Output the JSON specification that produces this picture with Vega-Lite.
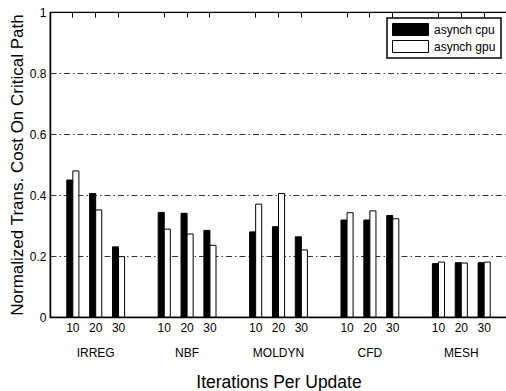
{
  "$schema": "https://vega.github.io/schema/vega-lite/v6.json",
  "width": 457,
  "height": 305,
  "autosize": {"type": "none"},
  "padding": {"left": 50, "top": 12, "right": 0, "bottom": 74},
  "background": "white",
  "config": {
    "font": "Liberation Sans",
    "view": {"stroke": "black", "strokeWidth": 1.2},
    "axis": {"labelColor": "black", "titleColor": "black", "labelFont": "Liberation Sans", "titleFont": "Liberation Sans", "domainColor": "black", "domainWidth": 1.5, "tickColor": "black"}
  },
  "data": {"values": [
    {"slot": "IRREG 10", "series": "asynch cpu", "value": 0.449},
    {"slot": "IRREG 10", "series": "asynch gpu", "value": 0.479},
    {"slot": "IRREG 20", "series": "asynch cpu", "value": 0.405},
    {"slot": "IRREG 20", "series": "asynch gpu", "value": 0.351},
    {"slot": "IRREG 30", "series": "asynch cpu", "value": 0.230},
    {"slot": "IRREG 30", "series": "asynch gpu", "value": 0.198},
    {"slot": "NBF 10", "series": "asynch cpu", "value": 0.343},
    {"slot": "NBF 10", "series": "asynch gpu", "value": 0.288},
    {"slot": "NBF 20", "series": "asynch cpu", "value": 0.340},
    {"slot": "NBF 20", "series": "asynch gpu", "value": 0.272},
    {"slot": "NBF 30", "series": "asynch cpu", "value": 0.284},
    {"slot": "NBF 30", "series": "asynch gpu", "value": 0.235},
    {"slot": "MOLDYN 10", "series": "asynch cpu", "value": 0.279},
    {"slot": "MOLDYN 10", "series": "asynch gpu", "value": 0.370},
    {"slot": "MOLDYN 20", "series": "asynch cpu", "value": 0.296},
    {"slot": "MOLDYN 20", "series": "asynch gpu", "value": 0.405},
    {"slot": "MOLDYN 30", "series": "asynch cpu", "value": 0.263},
    {"slot": "MOLDYN 30", "series": "asynch gpu", "value": 0.220},
    {"slot": "CFD 10", "series": "asynch cpu", "value": 0.318},
    {"slot": "CFD 10", "series": "asynch gpu", "value": 0.342},
    {"slot": "CFD 20", "series": "asynch cpu", "value": 0.318},
    {"slot": "CFD 20", "series": "asynch gpu", "value": 0.348},
    {"slot": "CFD 30", "series": "asynch cpu", "value": 0.333},
    {"slot": "CFD 30", "series": "asynch gpu", "value": 0.322},
    {"slot": "MESH 10", "series": "asynch cpu", "value": 0.175},
    {"slot": "MESH 10", "series": "asynch gpu", "value": 0.180},
    {"slot": "MESH 20", "series": "asynch cpu", "value": 0.178},
    {"slot": "MESH 20", "series": "asynch gpu", "value": 0.177},
    {"slot": "MESH 30", "series": "asynch cpu", "value": 0.178},
    {"slot": "MESH 30", "series": "asynch gpu", "value": 0.180}
  ]},
  "layer": [
    {
      "mark": {"type": "bar", "stroke": "black", "strokeWidth": 1},
      "encoding": {
        "x": {
          "field": "slot", "type": "nominal",
          "scale": {
            "domain": ["IRREG 10", "IRREG 20", "IRREG 30", "gap1", "NBF 10", "NBF 20", "NBF 30", "gap2", "MOLDYN 10", "MOLDYN 20", "MOLDYN 30", "gap3", "CFD 10", "CFD 20", "CFD 30", "gap4", "MESH 10", "MESH 20", "MESH 30"],
            "paddingInner": 0.47, "paddingOuter": 0.735
          },
          "axis": {
            "orient": "bottom",
            "values": ["IRREG 10", "IRREG 20", "IRREG 30", "NBF 10", "NBF 20", "NBF 30", "MOLDYN 10", "MOLDYN 20", "MOLDYN 30", "CFD 10", "CFD 20", "CFD 30", "MESH 10", "MESH 20", "MESH 30"],
            "labelExpr": "split(datum.value, ' ')[1] == '20' ? [split(datum.value, ' ')[1], split(datum.value, ' ')[0]] : split(datum.value, ' ')[1]",
            "labelAngle": 0, "labelFontSize": 12, "labelPadding": 5, "labelLineHeight": 25, "labelOverlap": false,
            "ticks": false, "grid": false,
            "title": "Iterations Per Update", "titleFontSize": 17.5, "titleFontWeight": "normal", "titlePadding": 15
          }
        },
        "xOffset": {"field": "series", "type": "nominal", "scale": {"paddingInner": 0, "paddingOuter": 0}},
        "y": {
          "field": "value", "type": "quantitative",
          "scale": {"domain": [0, 1], "nice": false, "zero": true},
          "axis": {
            "values": [0, 0.2, 0.4, 0.6, 0.8, 1],
            "labelExpr": "'' + datum.value",
            "labelFontSize": 12, "labelPadding": 4, "ticks": false,
            "grid": true, "gridColor": "black", "gridDash": [6, 3, 1.5, 3], "gridWidth": 0.8, "gridOpacity": 1,
            "title": "Normalized Trans. Cost On Critical Path", "titleFontSize": 17, "titleFontWeight": "normal", "titlePadding": 3
          }
        },
        "fill": {
          "field": "series", "type": "nominal",
          "scale": {"domain": ["asynch cpu", "asynch gpu"], "range": ["black", "white"]},
          "legend": {
            "title": null, "orient": "none", "legendX": 337, "legendY": 6,
            "symbolType": "M-1,-1H5V1H-1Z", "symbolSize": 144,
            "symbolStrokeColor": "black", "symbolStrokeWidth": 1, "symbolOpacity": 1,
            "labelFontSize": 12, "labelColor": "black", "labelOffset": 29,
            "padding": 5, "rowPadding": 4, "clipHeight": 13,
            "strokeColor": "black", "fillColor": "white",
            "encode": {"legend": {"update": {"strokeWidth": {"value": 1.5}}}}
          }
        }
      }
    },
    {
      "mark": {"type": "bar", "opacity": 0},
      "encoding": {
        "x": {
          "field": "slot", "type": "nominal",
          "axis": {
            "orient": "top", "offset": -5,
            "values": ["IRREG 10", "IRREG 20", "IRREG 30", "NBF 10", "NBF 20", "NBF 30", "MOLDYN 10", "MOLDYN 20", "MOLDYN 30", "CFD 10", "CFD 20", "CFD 30", "MESH 10", "MESH 20", "MESH 30"],
            "labels": false, "domain": false, "ticks": true, "tickSize": 5, "tickWidth": 1, "grid": false, "title": null
          }
        },
        "y": {"field": "value", "type": "quantitative"}
      }
    }
  ],
  "resolve": {"axis": {"x": "independent"}}
}
